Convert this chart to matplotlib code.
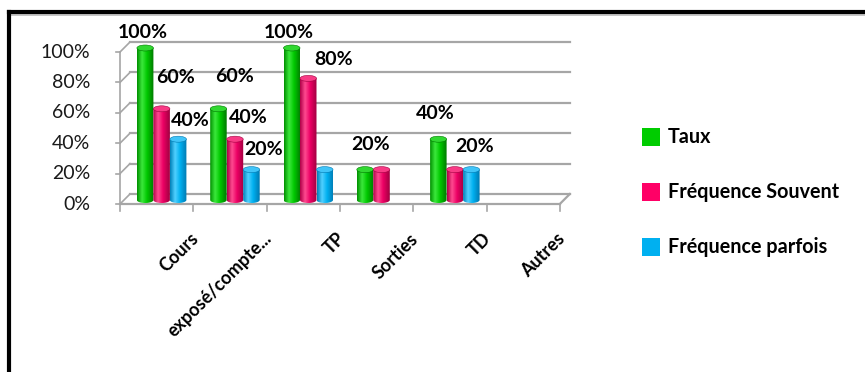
import numpy as np
import matplotlib.pyplot as plt
from matplotlib.patches import Ellipse, PathPatch, Rectangle
from matplotlib.path import Path
from matplotlib.lines import Line2D
from matplotlib.colors import LinearSegmentedColormap

# valeurs du graphique
categories = ["Cours", "exposé/compte...", "TP", "Sorties", "TD", "Autres"]
taux = [1.0, 0.6, 1.0, 0.2, 0.4, 0.0]
souvent = [0.6, 0.4, 0.8, 0.2, 0.2, 0.0]
parfois = [0.4, 0.2, 0.2, 0.0, 0.2, 0.0]
series_names = ["Taux", "Fréquence Souvent", "Fréquence parfois"]
y_ticks = [0, 0.2, 0.4, 0.6, 0.8, 1.0]

# étiquettes affichées : (série, catégorie, décalage x, décalage y) en pixels
shown_labels = [
    (0, 0, -2, 15), (1, 0, 14, 31), (2, 0, 12, 19),
    (0, 1, 16, 32), (1, 1, 13, 22), (2, 1, 12, 20),
    (0, 2, -3, 15), (1, 2, 25, 19),
    (0, 3, 6, 25),
    (0, 4, -3, 26), (1, 4, 20, 23),
]

legend_colors = ["#00CC00", "#FF0066", "#00B0F0"]
shades = [
    ["#009000", "#3CE83C", "#00C800", "#007800"],
    ["#B00048", "#FF4A90", "#EC0064", "#A00040"],
    ["#0080B8", "#50D0FF", "#00B0F0", "#0078B0"],
]
tops = ["#30D830", "#F83A85", "#40C4F8"]

W, H = 865, 372
PX_X, PX_Y = 73.3, 152.0   # pixels par catégorie / par 100 %
X0, Y0 = 120, 204           # coin avant gauche du graphique

plt.rcParams['font.family'] = ['Lato', 'DejaVu Sans']
fig = plt.figure(figsize=(W / 100, H / 100), dpi=100)

# zone du tracé en pixels
left, right, top, bottom = 20, 620, 20, 270
ax = fig.add_axes([left / W, 1 - bottom / H, (right - left) / W, (bottom - top) / H])
xlim = ((left - X0) / PX_X, (right - X0) / PX_X)
ylim = ((Y0 - bottom) / PX_Y, (Y0 - top) / PX_Y)
ax.axis('off')

n = len(categories)
dx, dy = 10 / PX_X, 10 / PX_Y        # profondeur du fond
mx, my = 5 / PX_X, 4 / PX_Y          # plan des barres
grid_c = "#A6A6A6"

# murs : quadrillage du fond + diagonales à gauche
for v in y_ticks:
    ax.plot([dx, n + dx], [v + dy, v + dy], color=grid_c, lw=1.6, zorder=1)
    ax.plot([0, dx], [v, v + dy], color=grid_c, lw=1.2, zorder=1)
    ax.plot([-0.06, 0], [v, v], color=grid_c, lw=1.2, zorder=1)
ax.plot([0, 0], [0, 1], color=grid_c, lw=1.2, zorder=1)
ax.plot([0, n], [0, 0], color=grid_c, lw=1.6, zorder=1)
ax.plot([n, n + dx], [0, dy], color=grid_c, lw=1.6, zorder=1)
for i in range(n + 1):
    ax.plot([i, i], [0, -0.045], color=grid_c, lw=1.2, zorder=1)

for v in y_ticks:
    ax.text(-30 / PX_X, v, f"{int(round(v * 100))}%", ha='right', va='center',
            fontsize=14, color="#1a1a1a")

for i, name in enumerate(categories):
    ax.text(i + 1 + 2 / PX_X, -32 / PX_Y, name, rotation=45, rotation_mode='anchor',
            ha='right', va='center', fontsize=13, fontweight='bold')


def cylinder(xc, y0, h, w, k):
    ry = 3 / PX_Y
    t = np.linspace(np.pi, 2 * np.pi, 40)
    arc = np.column_stack([xc + w / 2 * np.cos(t), y0 + ry * np.sin(t)])
    verts = np.vstack([arc, [[xc + w / 2, y0 + h], [xc - w / 2, y0 + h], arc[0]]])
    body = PathPatch(Path(verts, closed=True), facecolor='none', edgecolor='none')
    ax.add_patch(body)
    cmap = LinearSegmentedColormap.from_list("c%d" % k, list(zip([0, 0.3, 0.6, 1], shades[k])))
    im = ax.imshow(np.linspace(0, 1, 64).reshape(1, -1), extent=[xc - w / 2, xc + w / 2, y0 - ry, y0 + h],
                   aspect='auto', cmap=cmap, zorder=3, interpolation='bilinear')
    im.set_clip_path(body)
    ax.add_patch(Ellipse((xc, y0 + h), w, 2 * ry, facecolor=tops[k],
                         edgecolor=shades[k][3], lw=0.4, zorder=4))


series = [taux, souvent, parfois]
bw = 16.5 / PX_X
for i in range(n):
    for k, vals in enumerate(series):
        v = vals[i]
        if v <= 0:
            continue
        xc = i + 0.5 + mx + (k - 1) * bw
        cylinder(xc, my, v, bw, k)

for k, i, ox, oy in shown_labels:
    v = series[k][i]
    xc = i + 0.5 + mx + (k - 1) * bw
    ax.annotate(f"{int(round(v * 100))}%", (xc, v + my), xytext=(ox * 0.72, oy * 0.72),
                textcoords='offset points', ha='center', va='center',
                fontsize=14, fontweight='bold', zorder=6)

ax.set_xlim(*xlim)
ax.set_ylim(*ylim)

# légende
for k, name in enumerate(series_names):
    cy = 137 + k * 55
    fig.patches.append(Rectangle((642 / W, 1 - (cy + 9) / H), 18 / W, 18 / H,
                                 facecolor=legend_colors[k], edgecolor='none',
                                 transform=fig.transFigure))
    fig.text(668 / W, 1 - cy / H, name, ha='left', va='center',
             fontsize=14.2, fontweight='bold')

# cadre
fig.add_artist(Line2D([9 / W, 1], [1 - 15 / H, 1 - 15 / H], color="#BBBBBB", lw=1.2))
fig.add_artist(Line2D([9 / W, 1], [1 - 12 / H, 1 - 12 / H], color="black", lw=3))
fig.add_artist(Line2D([9 / W, 9 / W], [0, 1 - 12 / H], color="black", lw=3))

fig.savefig("out.png", dpi=100)
